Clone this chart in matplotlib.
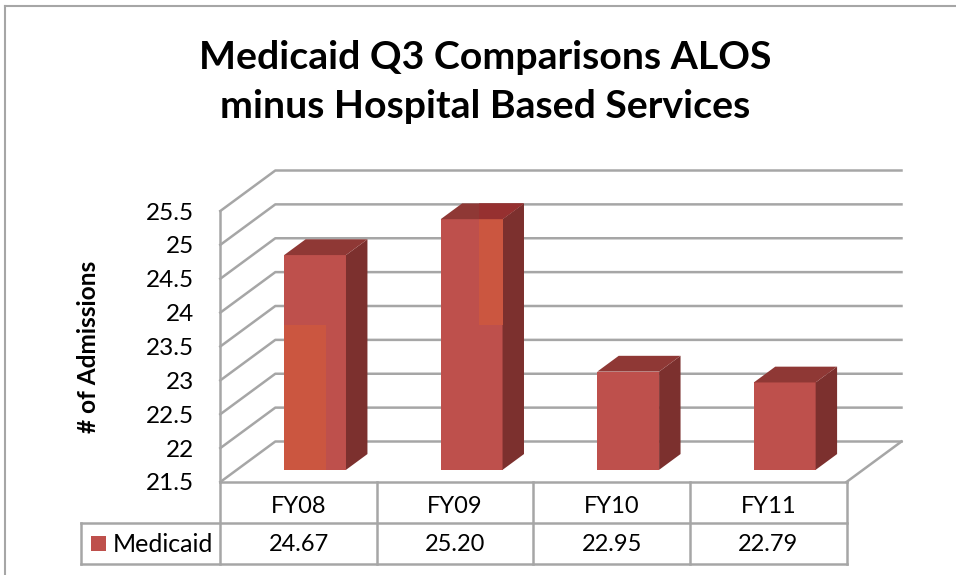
import matplotlib
matplotlib.use("Agg")
import matplotlib.pyplot as plt
from matplotlib.patches import Polygon, Rectangle
import numpy as np

categories = ["FY08", "FY09", "FY10", "FY11"]
medicaid = [24.67, 25.20, 22.95, 22.79]
value_labels = ["24.67", "25.20", "22.95", "22.79"]
y_ticks = [21.5, 22, 22.5, 23, 23.5, 24, 24.5, 25, 25.5]
y_tick_labels = ["21.5", "22", "22.5", "23", "23.5", "24", "24.5", "25", "25.5"]
series_name = "Medicaid"
title = "Medicaid Q3 Comparisons ALOS\nminus Hospital Based Services"
y_label = "# of Admissions"

W, H = 956, 575
FONT = "Lato"
plt.rcParams["font.family"] = [FONT, "DejaVu Sans"]
GRID = "#A6A6A6"
FRONT, SIDE, TOP = "#BE504C", "#7C302E", "#8F3835"
PATCH, PATCH_TOP = "#CB5640", "#963030"

fig = plt.figure(figsize=(W / 100, H / 100), dpi=100, facecolor="white")
X0, X1, Y0, Y1 = 220.3, 846.5, 482, 211
ax = fig.add_axes([X0 / W, 1 - Y0 / H, (X1 - X0) / W, (Y0 - Y1) / H])
ax.set_xlim(0, len(categories))
ax.set_ylim(y_ticks[0], y_ticks[-1])
ax.patch.set_visible(False)
for s in ax.spines.values():
    s.set_visible(False)

px_x = len(categories) / (X1 - X0)      # data units per pixel
px_y = (y_ticks[-1] - y_ticks[0]) / (Y0 - Y1)
DX, DY = 55 * px_x, 40.5 * px_y         # full depth of the floor


def proj(x, y, d=0.0):
    return (x + d * DX, y + d * DY)


def line(pts, lw=1.8, color=GRID, z=1):
    xs, ys = zip(*pts)
    ax.plot(xs, ys, color=color, lw=lw, clip_on=False, zorder=z,
            solid_capstyle="projecting")


def poly(pts, color, z=3):
    ax.add_patch(Polygon(pts, closed=True, facecolor=color, edgecolor="none",
                         clip_on=False, zorder=z))


n = len(categories)
ymin = y_ticks[0]
# walls, gridlines and floor
for t in y_ticks:
    line([proj(0, t), proj(0, t, 1), proj(n, t, 1)])
line([proj(0, ymin), proj(0, y_ticks[-1])])
line([proj(n, ymin), proj(n, ymin, 1)])

# bars
bar_w = 0.395
d0, d1 = 0.30, 0.69
for i, v in enumerate(medicaid):
    c = i + 0.5
    l, r = c - bar_w / 2, c + bar_w / 2
    l, r = proj(l, 0, d0)[0], proj(r, 0, d0)[0]
    b = ymin + d0 * DY
    t = v + d0 * DY
    dd = d1 - d0
    poly([(l, b), (r, b), (r, t), (l, t)], FRONT, 4)
    poly([(r, b), (r + dd * DX, b + dd * DY), (r + dd * DX, t + dd * DY), (r, t)], SIDE, 4)
    poly([(l, t), (r, t), (r + dd * DX, t + dd * DY), (l + dd * DX, t + dd * DY)], TOP, 4)

# lighter reflection shapes that lie over the first two bars
split = ymin + (469.8 - 325) * px_y + d0 * DY
l0 = proj(0.5 - bar_w / 2, 0, d0)[0]
ax.add_patch(Rectangle((l0, ymin + d0 * DY), 42 * px_x, split - ymin - d0 * DY,
                       facecolor=PATCH, edgecolor="none", clip_on=False, zorder=5))
r1 = proj(1.5 + bar_w / 2, 0, d0)[0]
t1 = medicaid[1] + d0 * DY
ax.add_patch(Rectangle((r1 - 23.5 * px_x, split), 23.5 * px_x, t1 - split,
                       facecolor=PATCH, edgecolor="none", clip_on=False, zorder=5))
dd = d1 - d0
poly([(r1 - 23.5 * px_x, t1), (r1, t1), (r1 + dd * DX, t1 + dd * DY),
      (r1 - 23.5 * px_x, t1 + dd * DY)], PATCH_TOP, 5)

# data table below the plot
row1 = ymin - 40.5 * px_y
row2 = ymin - 82 * px_y
left = -139 * px_x
line([(0, ymin), (n, ymin)], z=6)
line([(left, row1), (n, row1)])
line([(left, row2), (n, row2)])
line([(left, row1), (left, row2)])
for k in range(n + 1):
    line([(k, ymin), (k, row2)])
for k, (cat, val) in enumerate(zip(categories, value_labels)):
    ax.text(k + 0.5, (ymin + row1) / 2 - 4 * px_y, cat, ha="center", va="center", fontsize=17, color="black")
    ax.text(k + 0.5, (row1 + row2) / 2 - 1 * px_y, val, ha="center", va="center", fontsize=17, color="black")
ax.add_patch(Rectangle((-129 * px_x, (row1 + row2) / 2 - 7.5 * px_y), 15 * px_x, 15 * px_y,
                       facecolor=FRONT, edgecolor="none", clip_on=False))
ax.text(-108 * px_x, (row1 + row2) / 2 - 1 * px_y, series_name, ha="left", va="center", fontsize=18, color="black")

# axes text
ax.set_xticks([])
ax.set_yticks(y_ticks)
ax.set_yticklabels(y_tick_labels, fontsize=17.5)
ax.tick_params(axis="y", length=0, pad=19)
fig.text(88 / W, 1 - 347 / H, y_label, rotation=90, ha="center", va="center",
         fontsize=17.6, fontweight="bold")
fig.text(485 / W, 1 - 82 / H, title, ha="center", va="center", fontsize=28.3,
         fontweight="bold", linespacing=1.48)

# chart frame
fig.add_artist(plt.Line2D([5 / W, 5 / W], [0, 1 - 5.5 / H], color=GRID, lw=1.5))
fig.add_artist(plt.Line2D([5 / W, 1], [1 - 5.5 / H, 1 - 5.5 / H], color=GRID, lw=1.5))

fig.savefig("out.png", dpi=100, facecolor="white")
